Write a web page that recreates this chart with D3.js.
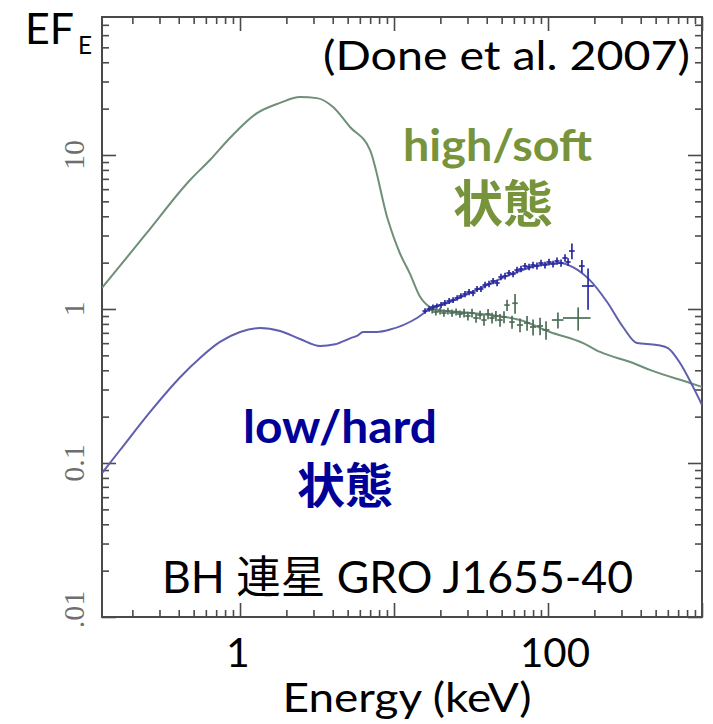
<!DOCTYPE html>
<html><head><meta charset="utf-8">
<script src="https://cdn.jsdelivr.net/npm/d3@7"></script>
<style>body{margin:0;background:#fff;} svg{display:block;}</style>
</head><body>
<svg id="c" width="713" height="724"></svg>
<script>
// ---------- data ----------
const xDomain = [0.127, 1000];
const yDomain = [0.01, 78.7];
const xTickValues = [1, 100];
const xTickLabels = ["1", "100"];
const yTickValues = [0.01, 0.1, 1, 10];
const yTickLabels = ["0.01", "0.1", "1", "10"];

// high/soft model curve (keV, EF_E)
const softModelE = [0.127, 0.245, 0.474, 0.638, 0.86, 1.29, 1.82, 2.45, 3.16, 4.02, 5.18, 6.98, 9.14, 10.9, 12.7, 14.7, 17.1, 20, 26.8, 42, 65.8, 103, 169, 218, 357, 459, 836, 1000];
const softModelF = [1.37, 3.07, 6.88, 9.28, 12.9, 18.7, 21.8, 23.8, 23.4, 20.5, 15.2, 10.8, 3.78, 2.31, 1.69, 1.21, 1.03, 0.98, 0.956, 0.914, 0.848, 0.709, 0.601, 0.526, 0.446, 0.402, 0.331, 0.312];

// low/hard model curve
const hardModelE = [0.127, 0.166, 0.26, 0.41, 0.55, 0.741, 1, 1.35, 1.82, 2.45, 3.31, 4.14, 5.18, 5.83, 6.29, 7.76, 9.42, 14.1, 17.1, 23.1, 37.8, 62.9, 88.8, 120, 145, 187, 242, 307, 378, 510, 601, 720, 875, 1000];
const hardModelF = [0.086, 0.121, 0.214, 0.362, 0.481, 0.611, 0.709, 0.753, 0.72, 0.638, 0.575, 0.59, 0.645, 0.675, 0.71, 0.71, 0.735, 0.874, 1.0, 1.11, 1.39, 1.74, 1.93, 1.99, 1.87, 1.54, 1.11, 0.764, 0.601, 0.584, 0.558, 0.446, 0.312, 0.238];

// high/soft data: energy, flux, energy half-width, flux error
const softDataE  = [17.7, 18.7, 19.9, 21.1, 22.4, 23.8, 25.3, 26.8, 28.5, 30.2, 32.1, 34.1, 36.2, 38.4, 40.8, 43.3, 45.9, 48.8, 51.8, 54.2, 61.1, 58.4, 65.8, 73.1, 80, 88.8, 97.1, 116, 157];
const softDataF  = [0.985, 0.956, 0.970, 0.942, 0.970, 0.942, 0.956, 0.928, 0.942, 0.901, 0.942, 0.874, 0.914, 0.848, 0.928, 0.874, 0.901, 0.848, 0.887, 1.06, 1.09, 0.823, 0.787, 0.811, 0.764, 0.776, 0.731, 0.848, 0.874];
const softDataDE = [0.7, 0.75, 0.8, 0.85, 0.9, 0.95, 1.0, 1.1, 1.15, 1.2, 1.3, 1.4, 1.45, 1.5, 1.6, 1.7, 1.8, 1.95, 2.1, 2.2, 2.5, 2.4, 3, 3.3, 3.6, 4, 5, 10, 32];
const softDataDF = [0.05, 0.05, 0.05, 0.05, 0.05, 0.05, 0.05, 0.05, 0.06, 0.06, 0.06, 0.06, 0.06, 0.07, 0.07, 0.07, 0.07, 0.08, 0.08, 0.09, 0.16, 0.08, 0.08, 0.09, 0.09, 0.1, 0.1, 0.1, 0.15];

// low/hard data
const hardDataE  = [15.9, 16.9, 17.9, 19.0, 20.2, 21.4, 22.8, 24.2, 25.7, 27.2, 28.9, 30.7, 32.6, 34.6, 36.7, 39.0, 41.4, 44.0, 46.7, 49.5, 52.6, 55.8, 59.3, 62.9, 66.8, 70.9, 75.3, 79.9, 84.8, 90.1, 95.6, 101.5, 107.8, 114.4, 121.5, 129, 135, 143, 166, 182];
const hardDataF  = [0.970, 1.0, 1.030, 1.046, 1.062, 1.094, 1.127, 1.144, 1.179, 1.214, 1.251, 1.289, 1.270, 1.348, 1.348, 1.432, 1.453, 1.520, 1.475, 1.614, 1.637, 1.713, 1.687, 1.791, 1.819, 1.902, 1.874, 1.930, 1.902, 1.989, 1.930, 2.019, 1.959, 2.050, 1.989, 2.144, 2.019, 2.38, 1.90, 1.41];
const hardDataDE = [0.6, 0.65, 0.7, 0.75, 0.8, 0.85, 0.9, 0.95, 1.0, 1.05, 1.1, 1.2, 1.25, 1.3, 1.4, 1.5, 1.6, 1.7, 1.8, 1.9, 2.0, 2.1, 2.3, 2.4, 2.6, 2.7, 2.9, 3.1, 3.3, 3.5, 3.7, 3.9, 4.2, 4.4, 4.7, 5, 5.2, 6, 7, 16];
const hardDataDF = [0.04, 0.04, 0.04, 0.04, 0.05, 0.05, 0.05, 0.05, 0.05, 0.05, 0.06, 0.06, 0.06, 0.06, 0.06, 0.07, 0.07, 0.07, 0.07, 0.08, 0.08, 0.08, 0.08, 0.09, 0.09, 0.09, 0.09, 0.1, 0.1, 0.1, 0.1, 0.1, 0.1, 0.11, 0.11, 0.12, 0.12, 0.28, 0.18, 0.42];

// ---------- drawing ----------
const svg = d3.select("#c");
const L = 102, R = 702, T = 17, B = 617;
const x = d3.scaleLog().domain(xDomain).range([L, R]);
const y = d3.scaleLog().domain(yDomain).range([B, T]);

const isMajor = v => Math.abs(Math.log10(v) - Math.round(Math.log10(v))) < 1e-6;
const xt = x.ticks(), yt = y.ticks();
const xMaj = xt.filter(isMajor), xMin = xt.filter(v => !isMajor(v));
const yMaj = yt.filter(isMajor), yMin = yt.filter(v => !isMajor(v));

const defs = svg.append("defs");
defs.append("clipPath").attr("id", "plot").append("rect")
  .attr("x", L).attr("y", T).attr("width", R - L).attr("height", B - T);
defs.append("clipPath").attr("id", "fig").append("rect")
  .attr("x", 0).attr("y", 0).attr("width", 713).attr("height", 626);

const axColor = "#4a4a4a";
function styleAxis(g) {
  g.select(".domain").remove();
  g.selectAll(".tick line").attr("stroke", axColor).attr("stroke-width", 1.6);
  g.selectAll(".tick text").remove();
}
const axes = svg.append("g");
[[xMin, 7], [xMaj, 14]].forEach(([vals, len]) => {
  axes.append("g").attr("transform", `translate(0,${B})`)
    .call(d3.axisTop(x).tickValues(vals).tickSize(len).tickFormat("")).call(styleAxis);
  axes.append("g").attr("transform", `translate(0,${T})`)
    .call(d3.axisBottom(x).tickValues(vals).tickSize(len).tickFormat("")).call(styleAxis);
});
[[yMin, 7], [yMaj, 14]].forEach(([vals, len]) => {
  axes.append("g").attr("transform", `translate(${L},0)`)
    .call(d3.axisRight(y).tickValues(vals).tickSize(len).tickFormat("")).call(styleAxis);
  axes.append("g").attr("transform", `translate(${R},0)`)
    .call(d3.axisLeft(y).tickValues(vals).tickSize(len).tickFormat("")).call(styleAxis);
});
svg.append("rect").attr("x", L).attr("y", T).attr("width", R - L).attr("height", B - T)
  .attr("fill", "none").attr("stroke", axColor).attr("stroke-width", 2);

// y tick labels (rotated serif)
const ylab = svg.append("g").attr("clip-path", "url(#fig)");
ylab.selectAll("text").data(yTickValues).join("text")
  .attr("transform", d => `translate(84,${y(d)}) rotate(-90)`)
  .attr("text-anchor", "middle")
  .attr("font-family", "'Liberation Serif', 'DejaVu Serif', serif")
  .attr("font-size", 30).attr("fill", "#6e6e6e")
  .text((d, i) => yTickLabels[i]);

// model curves
const line = d3.line().x(d => x(d[0])).y(d => y(d[1])).curve(d3.curveMonotoneX);
const plot = svg.append("g").attr("clip-path", "url(#plot)");
plot.append("path").datum(softModelE.map((e, i) => [e, softModelF[i]]))
  .attr("d", line).attr("fill", "none").attr("stroke", "#6f8f78").attr("stroke-width", 2);
plot.append("path").datum(hardModelE.map((e, i) => [e, hardModelF[i]]))
  .attr("d", line).attr("fill", "none").attr("stroke", "#5f5fae").attr("stroke-width", 2);

// data crosses
function crosses(E, F, dE, dF, color) {
  const g = plot.append("g").attr("stroke", color).attr("stroke-width", 1.7);
  const d = E.map((e, i) => ({e, f: F[i], de: dE[i], df: dF[i]}));
  g.selectAll(".h").data(d).join("line")
    .attr("x1", p => x(p.e - p.de)).attr("x2", p => x(p.e + p.de))
    .attr("y1", p => y(p.f)).attr("y2", p => y(p.f));
  g.selectAll(".v").data(d).join("line")
    .attr("x1", p => x(p.e)).attr("x2", p => x(p.e))
    .attr("y1", p => y(p.f - p.df)).attr("y2", p => y(p.f + p.df));
}
crosses(softDataE, softDataF, softDataDE, softDataDF, "#4d6e57");
crosses(hardDataE, hardDataF, hardDataDE, hardDataDF, "#2a2aa0");

// ---------- slide texts ----------
const SANS = "Lato, 'Noto Sans CJK JP', sans-serif";
function txt(str, o) {
  const t = svg.append("text").text(str)
    .attr("font-family", o.family || SANS)
    .attr("font-weight", o.bold ? 700 : 400)
    .attr("fill", o.fill || "#000")
    .attr("font-size", o.size)
    .attr("y", o.base);
  if (o.width) t.attr("textLength", o.width).attr("lengthAdjust", "spacingAndGlyphs");
  if (o.cx !== undefined) t.attr("x", o.cx).attr("text-anchor", "middle");
  else t.attr("x", o.left);
  return t;
}
txt("EF", {left: 25, base: 44, size: 43, width: 49});
txt("E", {left: 78, base: 54, size: 25, width: 14});
txt("(Done et al. 2007)", {left: 323, base: 70, size: 40, width: 367});
const green = "#77933c", navy = "#000099";
txt("high/soft", {left: 403, base: 161, size: 44, width: 189, bold: true, fill: green});
txt("状態", {cx: 503, base: 222, size: 50, bold: true, fill: green, family: "'Noto Sans CJK JP', sans-serif"});
txt("low/hard", {left: 243, base: 443, size: 46, width: 194, bold: true, fill: navy});
txt("状態", {cx: 345, base: 503, size: 48, bold: true, fill: navy, family: "'Noto Sans CJK JP', sans-serif"});
txt("BH 連星 GRO J1655-40", {left: 162, base: 593, size: 44, width: 471});
txt(xTickLabels[1], {cx: x(xTickValues[1]) + 7, base: 667, size: 41, width: 70});
txt(xTickLabels[0], {cx: x(xTickValues[0]) - 2, base: 667, size: 41});
txt("Energy (keV)", {cx: 407, base: 712, size: 41, width: 249});
</script>
</body></html>
